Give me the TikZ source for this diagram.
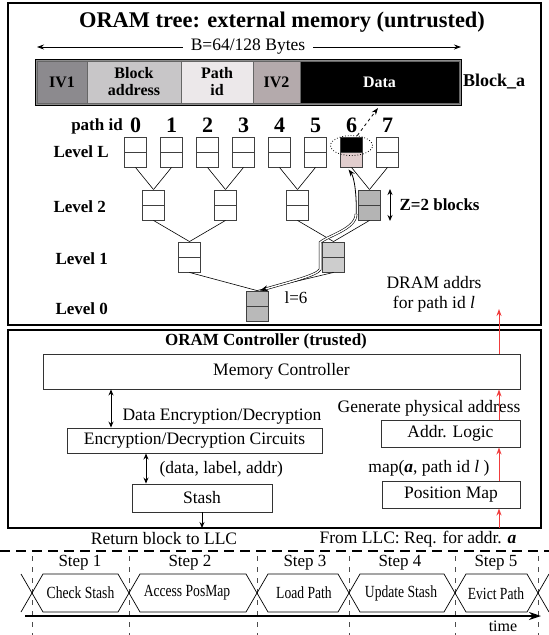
\documentclass[tikz,border=0pt]{standalone}
\usepackage{fontspec}
\usepackage{graphicx}
\setmainfont{Liberation Serif}
\usetikzlibrary{arrows.meta,calc,shapes.geometric}
\definecolor{ivone}{RGB}{140,138,142}
\definecolor{blkaddr}{RGB}{200,198,200}
\definecolor{pathidc}{RGB}{236,232,234}
\definecolor{ivtwo}{RGB}{180,170,172}
\definecolor{pinkc}{RGB}{225,205,205}
\definecolor{grtwo}{RGB}{180,180,180}
\definecolor{grone}{RGB}{205,205,205}
\definecolor{grzero}{RGB}{185,185,185}
\definecolor{redc}{RGB}{240,60,60}
\tikzset{
  rg/.style={font=\fontsize{17.5}{20}\selectfont},
  bd/.style={font=\bfseries\fontsize{17}{19}\selectfont},
  frame/.style={draw=black, line width=2.2pt},
  bucket/.style={draw=black!75, line width=0.9pt, minimum width=22pt, minimum height=30pt, inner sep=0pt, fill=white,
    path picture={\draw[black!75, line width=0.9pt] (path picture bounding box.west) -- (path picture bounding box.east);}},
  leafsix/.style={draw=black!75, line width=0.9pt, minimum width=22pt, minimum height=30pt, inner sep=0pt,
    path picture={\fill[black] (path picture bounding box.north west) rectangle (path picture bounding box.east);
      \fill[pinkc] (path picture bounding box.west) rectangle (path picture bounding box.south east);
      \draw[black!75, line width=0.9pt] (path picture bounding box.west) -- (path picture bounding box.east);}},
  stripcell/.style={draw=black!60, line width=0.8pt, minimum height=42pt, inner sep=0pt, font=\bfseries\fontsize{16}{17}\selectfont, align=center},
  ctl/.style={draw=black!80, line width=0.9pt, inner sep=0pt, font=\fontsize{17.5}{20}\selectfont},
  tree/.style={line width=0.6pt},
  redarr/.style={draw=redc, line width=1pt, -{Stealth[length=7pt,width=5pt]}},
  both/.style={line width=1pt, {Stealth[length=6pt,width=5pt]}-{Stealth[length=6pt,width=5pt]}},
  hexline/.style={line width=0.7pt},
  vdash/.style={black!70, line width=0.6pt, dash pattern=on 5pt off 6pt},
  hextext/.style={font=\fontsize{17}{19}\selectfont},
}
\begin{document}
\begin{tikzpicture}[x=1pt,y=-1pt]
\useasboundingbox (0,0) rectangle (549,635);
% frames
\draw[frame] (8,3) rectangle (541,325);
\draw[frame] (8,330) rectangle (541,528);
% title
\node[font=\bfseries\fontsize{22.4}{24}\selectfont, anchor=base] (title) at (282,27) {ORAM tree: external memory (untrusted)};
% B arrow
\coordinate (bl) at (37,47);
\coordinate (br) at (461,47);
\draw[line width=0.8pt, {Stealth[length=7pt,width=5pt]}-{Stealth[length=7pt,width=5pt]}] (bl) -- (br);
\node[rg, fill=white, inner xsep=8pt, inner ysep=1pt] (bsize) at (248,47) {B=64/128 Bytes};
% strip
\node[draw=black, line width=0.8pt, fill=black!45, minimum width=426pt, minimum height=46pt, inner sep=0pt] (strip) at (248,82) {};
\node[stripcell, fill=ivone, minimum width=50pt] (iv1) at (62,82) {IV1};
\node[stripcell, fill=blkaddr, minimum width=94pt] (baddr) at (134,82) {Block\\address};
\node[stripcell, fill=pathidc, minimum width=72pt] (pid) at (217,82) {Path\\id};
\node[stripcell, fill=ivtwo, minimum width=47pt] (iv2) at (276.5,82) {IV2};
\node[stripcell, fill=black, text=white, minimum width=159pt] (data) at (379.5,82) {Data};
\node[font=\bfseries\fontsize{18}{20}\selectfont] (blka) at (494,82) {Block\_a};
% path ids
\node[bd] (pidl) at (97,126) {path id};
\foreach \i in {0,...,7}
  \node[font=\bfseries\fontsize{22}{24}\selectfont] (n\i) at ({135.5+36*\i},125) {\i};
% leaves
\node[bucket] (L0) at (135.5,152) {};
\node[bucket] (L1) at (171.5,152) {};
\node[bucket] (L2) at (207.5,152) {};
\node[bucket] (L3) at (243.5,152) {};
\node[bucket] (L4) at (279.5,152) {};
\node[bucket] (L5) at (315.5,152) {};
\node[leafsix] (L6) at (351.5,152) {};
\node[bucket] (L7) at (387.5,152) {};
% level 2
\node[bucket] (M0) at (153.5,205) {};
\node[bucket] (M1) at (225.5,205) {};
\node[bucket] (M2) at (297.5,205) {};
\node[bucket, fill=grtwo] (M3) at (369.5,205) {};
% level 1
\node[bucket] (K0) at (189.5,257) {};
\node[bucket, fill=grone] (K1) at (333.5,257) {};
% level 0
\node[bucket, fill=grzero] (R) at (257,306) {};
% level labels
\node[bd, anchor=west] (lvL) at (50,152) {Level L};
\node[bd, anchor=west] (lv2) at (50,207) {Level 2};
\node[bd, anchor=west] (lv1) at (52,259) {Level 1};
\node[bd, anchor=west] (lv0) at (52,309) {Level 0};
% tree edges
\draw[tree] (L0.south) -- (M0.north);
\draw[tree] (L1.south) -- (M0.north);
\draw[tree] (L2.south) -- (M1.north);
\draw[tree] (L3.south) -- (M1.north);
\draw[tree] (L4.south) -- (M2.north);
\draw[tree] (L5.south) -- (M2.north);
\draw[tree] (L6.south) -- (M3.north);
\draw[tree] (L7.south) -- (M3.north);
\draw[tree] (M0.south) -- (K0.north);
\draw[tree] (M1.south) -- (K0.north);
\draw[tree] (M2.south) -- (K1.north);
\draw[tree] (M3.south) -- (K1.north);
\draw[tree] (K0.south) -- (R.north);
\draw[tree] (K1.south) -- (R.north);
% ellipse and dashed arrow
\node[ellipse, draw, dotted, line width=0.8pt, minimum width=42pt, minimum height=20pt, inner sep=0pt] (ell) at ($(L6.north)+(0,9)$) {};
\coordinate (dtip) at (378,108);
\draw[dashed, line width=0.8pt, -{Stealth[length=7pt,width=5pt]}] (ell.60) -- (dtip);
% Z arrow
\coordinate (z1) at (390,189);
\coordinate (z2) at (390,221);
\draw[both] (z1) -- (z2);
\node[bd, anchor=west] (zl) at (396,205) {Z=2 blocks};
% path curve
\draw[line width=0.8pt, -{Stealth[length=7pt,width=5pt]}] ($(M3.west)+(-2,12)$) .. controls ($(M3.west)+(-1,-8)$) and ($(L6.south)+(3,10)$) .. ($(L6.south)+(-3,2)$);
\draw[line width=0.6pt, double=white, double distance=1.4pt, -{Stealth[length=8pt,width=6pt]}] ($(M3.west)+(-2,9)$) .. controls ($(M3.west)+(-2,24)$) and ($(K1.north west)+(6,-6)$) .. ($(K1.north west)+(-2,1)$) -- ($(K1.south west)+(-2,-3)$) .. controls ($(K1.south west)+(-5,3)$) and ($(R.north)+(30,-8)$) .. ($(R.north)+(3,0)$);
\node[font=\fontsize{17}{19}\selectfont] (lsix) at (296,298) {l=6};
\node[rg, align=center] (dram) at (434,294) {DRAM addrs\\for path id \textit{l}};
% controller
\node[bd] (ctitle) at (266,341) {ORAM Controller (trusted)};
\node[ctl, minimum width=477pt, minimum height=35pt] (MC) at (281.5,371.5) {Memory Controller};
\node[ctl, minimum width=255pt, minimum height=25pt] (ENC) at (194.5,440.5) {Encryption/Decryption Circuits};
\node[ctl, minimum width=140pt, minimum height=28pt] (ST) at (202,498) {Stash};
\node[ctl, minimum width=139pt, minimum height=27pt] (AL) at (450.5,433.5) {Addr. Logic};
\node[ctl, minimum width=138pt, minimum height=27pt] (PM) at (451,494.5) {Position Map};
\coordinate (ax1) at (111,0);
\coordinate (ax2) at (146,0);
\draw[both] (MC.south -| ax1) -- (ENC.north -| ax1);
\draw[both] (ENC.south -| ax2) -- (ST.north -| ax2);
\node[rg, anchor=west] (dedl) at (119,417) {Data Encryption/Decryption};
\node[rg, anchor=west] (dlal) at (156,469) {(data, label, addr)};
\coordinate (stout) at (202,528);
\draw[line width=0.9pt, -{Stealth[length=6pt,width=5pt]}] (ST.south) -- (stout);
\node[rg] (gpa) at (429,408) {Generate physical address};
\node[rg] (mapl) at (429,468) {map(\textbf{\textit{a}}, path id \textit{l} )};
\coordinate (rx) at (499,0);
\coordinate (rin) at (499,528);
\coordinate (rout) at (499,309);
\draw[redarr] (rin) -- (PM.south -| rx);
\draw[redarr] (PM.north -| rx) -- (AL.south -| rx);
\draw[redarr] (AL.north -| rx) -- (MC.south -| rx);
\draw[redarr] (MC.north -| rx) -- (rout);
% bottom
\node[rg] (ret) at (164,539) {Return block to LLC};
\node[rg] (from) at (418,539) {From LLC: Req. for addr. \textbf{\textit{a}}};
\draw[line width=2pt, dash pattern=on 10pt off 6pt] (0,551) -- (549,551);
\foreach \x in {32,129,257,349,455,538}
  \draw[vdash] (\x,556) -- (\x,635);
\foreach \a/\b in {32/129,129/257,257/349,349/455,455/538}
  \draw[hexline] (\a,593) -- (\a+11,574) -- (\b-11,574) -- (\b,593) -- (\b-11,612) -- (\a+11,612) -- cycle;
\draw[hexline] (21,574) -- (32,593) -- (21,612);
\draw[hexline] (549,574) -- (538,593) -- (549,612);
\node[hextext] (s1) at (80,563) {Step 1};
\node[hextext] (s2) at (190,563) {Step 2};
\node[hextext] (s3) at (305,563) {Step 3};
\node[hextext] (s4) at (400,563) {Step 4};
\node[hextext] (s5) at (496,563) {Step 5};
\node[hextext] (h1) at (80.5,593) {\scalebox{0.8}[1]{Check Stash}};
\node[hextext] (h2) at (187,593) {\scalebox{0.8}[1]{Access PosMap}};
\node[hextext] (h3) at (304,593) {\scalebox{0.8}[1]{Load Path}};
\node[hextext] (h4) at (401,593) {\scalebox{0.8}[1]{Update Stash}};
\node[hextext] (h5) at (496,594) {\scalebox{0.8}[1]{Evict Path}};
\coordinate (t0) at (25,616);
\coordinate (t1) at (541,616);
\draw[line width=1.4pt, -{Stealth[length=12pt,width=8pt]}] (t0) -- (t1);
\node[font=\fontsize{16}{18}\selectfont, anchor=base, inner sep=0pt] (time) at (503,631) {time};
\end{tikzpicture}
\end{document}
